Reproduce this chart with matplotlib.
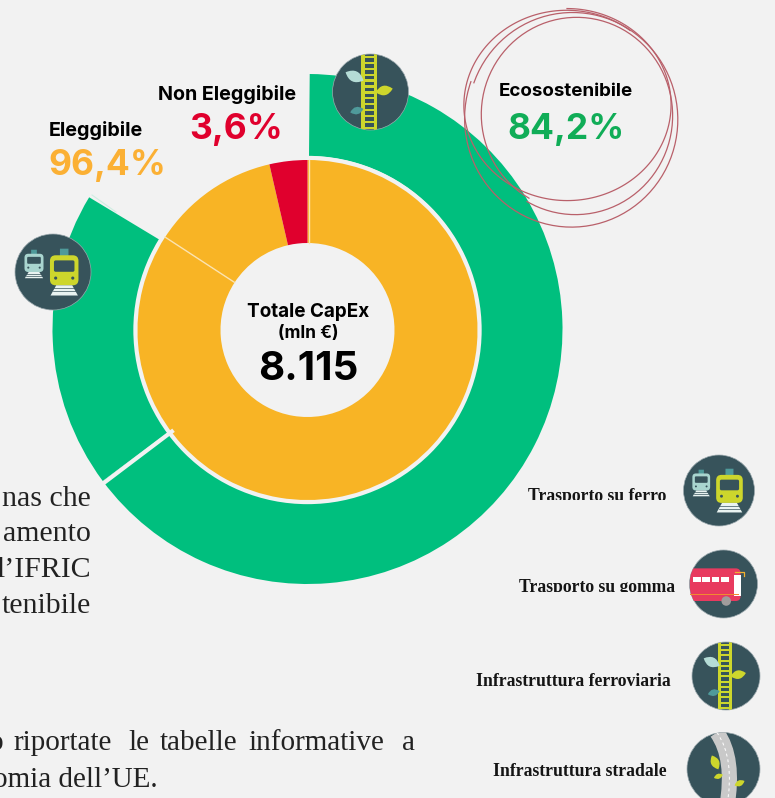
import matplotlib
matplotlib.use("Agg")
import matplotlib.pyplot as plt
import numpy as np
from matplotlib.patches import Circle, FancyBboxPatch, PathPatch, Polygon, Rectangle
from matplotlib.path import Path

# Data
outer_labels = ["Infrastruttura ferroviaria", "Trasporto su ferro", "rest"]
outer_values = [64.7, 18.8, 16.5]
inner_labels = ["Ecosostenibile", "Eleggibile non ecosostenibile", "Non Eleggibile"]
inner_values = [84.2, 12.2, 3.6]
legend_labels = ["Trasporto su ferro", "Trasporto su gomma", "Infrastruttura ferroviaria", "Infrastruttura stradale"]

BG = "#f2f2f2"
GREEN = "#00bf7e"
YELLOW = "#f8b425"
RED = "#e0002d"
SLATE = "#37535b"
LIME = "#cdd62c"
PALE = "#a9d5cf"
TEAL = "#4f9a9a"
SANS = "Inter"
SERIF = "Liberation Serif"

fig = plt.figure(figsize=(7.75, 7.98), dpi=100, facecolor=BG)
ax = fig.add_axes([0, 0, 1, 1])

# Outer ring
cx, cy = 307.5, 329
ax.pie(outer_values, radius=255, center=(cx, cy), startangle=270.5, counterclock=True, frame=True,
       colors=[GREEN, GREEN, "none"],
       wedgeprops=dict(width=82, edgecolor="none"))
# Inner ring
ax.pie(inner_values, radius=170, center=(cx, cy + 1), startangle=270, counterclock=True, frame=True,
       colors=[YELLOW, YELLOW, RED],
       wedgeprops=dict(width=83, edgecolor="none"))
ax.set_xlim(0, 775)
ax.set_ylim(798, 0)
ax.set_aspect("equal")
ax.axis("off")

# White gaps between the slices
gap = np.deg2rad(-90 + 360 * outer_values[0] / 100)
ax.plot([cx + 170 * np.cos(gap), cx + 258 * np.cos(gap)],
        [cy + 170 * np.sin(gap), cy + 258 * np.sin(gap)], color=BG, lw=3, zorder=3)
ax.add_patch(Circle((cx, cy + 1), 172.5, fc="none", ec=BG, lw=2.4, zorder=3))
split = np.deg2rad(-90 + 360 * inner_values[0] / 100)
ax.plot([cx + 87 * np.cos(split), cx + 170 * np.cos(split)],
        [cy + 1 + 87 * np.sin(split), cy + 1 + 170 * np.sin(split)], color="#fbe3b0", lw=1, zorder=3)
ax.plot([cx + 1, cx + 1], [cy - 169, cy - 86], color="#fbe3b0", lw=1, zorder=3)
ax.plot([92, 116], [195, 212], color="#cfeee2", lw=0.8)


def leaf(x, y, length, angle, color):
    a = np.deg2rad(angle)
    d = np.array([np.cos(a), np.sin(a)]) * length / 2
    n = np.array([-d[1], d[0]]) * 1.1
    c = np.array([x, y])
    verts = [c - d, c + n, c + d, c - n, c - d]
    codes = [Path.MOVETO, Path.CURVE3, Path.CURVE3, Path.CURVE3, Path.CURVE3]
    ax.add_patch(PathPatch(Path(verts, codes), fc=color, ec="none", zorder=8))


def disc(x, y, r):
    c = Circle((x, y), r, fc=SLATE, ec="#9aa8ad", lw=0.5, zorder=5)
    ax.add_patch(c)
    return c


def box(x0, y0, x1, y1, color, pad=0.0, clip=None):
    p = FancyBboxPatch((x0 + pad, y0 + pad), x1 - x0 - 2 * pad, y1 - y0 - 2 * pad,
                       boxstyle=f"round,pad={pad},rounding_size={pad}", fc=color, ec="none", zorder=6)
    ax.add_patch(p)
    if clip is not None:
        p.set_clip_path(clip)
    return p


def one_train(x, y, r, x0, y0, x1, y1, color):
    # x0..y1 are fractions of the icon radius
    X0, X1 = x + x0 * r, x + x1 * r
    Y0, Y1 = y + y0 * r, y + y1 * r
    w = X1 - X0
    h = Y1 - Y0
    mx = (X0 + X1) / 2
    box(mx - w * 0.15, Y0 - h * 0.22, mx + w * 0.15, Y0 + 1, TEAL)
    box(X0, Y0, X1, Y1, color, pad=w * 0.2)
    box(X0 + w * 0.14, Y0 + h * 0.17, X1 - w * 0.14, Y0 + h * 0.55, SLATE, pad=w * 0.06)
    for f in (0.2, 0.8):
        ax.add_patch(Circle((X0 + w * f, Y0 + h * 0.76), w * 0.055, fc=SLATE, ec="none", zorder=7))
    ax.add_patch(Polygon([(mx - w * 0.28, Y1), (mx + w * 0.28, Y1), (mx + w * 0.48, Y1 + h * 0.34), (mx - w * 0.48, Y1 + h * 0.34)],
                         fc="#e9f3f1", ec="none", zorder=6))
    for f in (0.1, 0.2):
        ax.plot([mx - w * 0.4, mx + w * 0.4], [Y1 + h * f, Y1 + h * f], color=SLATE, lw=0.5, zorder=7)


def train_icon(x, y, r):
    disc(x, y, r)
    one_train(x, y, r, -0.08, -0.44, 0.67, 0.35, LIME)
    one_train(x, y, r, -0.75, -0.48, -0.25, 0.0, PALE)


def ladder_icon(x, y, r):
    c = disc(x, y, r)
    for dx in (-0.24, 0.09):
        p = Rectangle((x + dx * r, y - r), 0.09 * r, 2 * r, fc=LIME, ec="none", zorder=6)
        ax.add_patch(p)
        p.set_clip_path(c)
    for f in np.arange(-0.95, 1.0, 0.155):
        p = Rectangle((x - 0.2 * r, y + f * r), 0.34 * r, 0.06 * r, fc=LIME, ec="none", zorder=6)
        ax.add_patch(p)
        p.set_clip_path(c)
    leaf(x - 0.42 * r, y - 0.41 * r, 0.52 * r, 25, "#b5dcd6")
    leaf(x + 0.36 * r, y - 0.04 * r, 0.46 * r, -12, LIME)
    leaf(x - 0.36 * r, y + 0.49 * r, 0.36 * r, -15, TEAL)


def bus_icon(x, y, r):
    c = disc(x, y, r)
    box(x - 0.99 * r, y - 0.46 * r, x + 0.5 * r, y + 0.5 * r, "#e83a5f", pad=0.14 * r, clip=c)
    for f in (-0.89, -0.62, -0.35, -0.08):
        ax.add_patch(Rectangle((x + f * r, y - 0.22 * r), 0.23 * r, 0.15 * r, fc="white", ec="none", zorder=7))
    ax.add_patch(Rectangle((x + 0.32 * r, y - 0.26 * r), 0.18 * r, 0.62 * r, fc="white", ec="none", zorder=7))
    ax.add_patch(Rectangle((x - 0.99 * r, y + 0.28 * r), 1.45 * r, 0.04 * r, fc="#f08a30", ec="none", zorder=7))
    ax.add_patch(Circle((x + 0.08 * r, y + 0.5 * r), 0.14 * r, fc="#a09c9c", ec="none", zorder=8))
    ax.plot([x + 0.35 * r, x + 0.6 * r, x + 0.6 * r], [y - 0.34 * r, y - 0.34 * r, y - 0.25 * r], color="#f0b030", lw=0.9, zorder=7)


def road_icon(x, y, r):
    c = disc(x, y, r)
    verts = [(x - 0.18 * r, y - 1.0 * r), (x + 0.32 * r, y - 0.3 * r), (x + 0.09 * r, y + 1.05 * r)]
    codes = [Path.MOVETO, Path.CURVE3, Path.CURVE3]
    p = PathPatch(Path(verts, codes), fc="none", ec="#c9c9c9", lw=r * 0.3, zorder=6, capstyle="butt")
    ax.add_patch(p)
    p.set_clip_path(c)
    p = PathPatch(Path(verts, codes), fc="none", ec="white", lw=0.7, ls=(0, (3, 3)), zorder=7)
    ax.add_patch(p)
    p.set_clip_path(c)
    leaf(x - 0.23 * r, y - 0.18 * r, 0.42 * r, 65, LIME)
    leaf(x - 0.14 * r, y + 0.2 * r, 0.26 * r, -20, LIME)
    leaf(x + 0.44 * r, y + 0.39 * r, 0.3 * r, -25, LIME)


train_icon(53, 272, 38)
ladder_icon(370.5, 92, 38)
train_icon(719, 490.5, 35.5)
bus_icon(723.5, 584, 34)
ladder_icon(726, 676, 34)
road_icon(723.5, 769, 36.5)

# Hand drawn rings around the 84,2%
scribbles = [
    (567, 105, 103.5, 95.5, -52, -450, 0.01),
    (576, 115, 96, 98, 120, 480, 0.02),
    (572, 119, 106, 107.5, 200, 560, 0.015),
]
for sx, sy, rx, ry, t0, t1, drift in scribbles:
    t = np.deg2rad(np.linspace(t0, t1, 200))
    k = 1 + drift * np.linspace(-1, 1, 200)
    ax.plot(sx + rx * k * np.cos(t), sy + ry * k * np.sin(t), color="#b9606a", lw=0.9, zorder=4)

# Center labels
ax.text(308, 312, "Totale CapEx", family=SANS, weight="bold", fontsize=13.6, ha="center", va="center", color="black")
ax.text(308, 334, "(mln €)", family=SANS, weight="bold", fontsize=12.5, ha="center", va="center", color="black")
ax.text(308, 370, "8.115", family=SANS, weight="bold", fontsize=29, ha="center", va="center", color="black")

# Callouts
ax.text(227, 94, "Non Eleggibile", family=SANS, weight="bold", fontsize=14.2, ha="center", va="center", color="black")
ax.text(236, 129, "3,6%", family=SANS, weight="bold", fontsize=25.5, ha="center", va="center", color=RED)
ax.text(95.5, 130, "Eleggibile", family=SANS, weight="bold", fontsize=14.2, ha="center", va="center", color="black")
ax.text(107, 165, "96,4%", family=SANS, weight="bold", fontsize=25.5, ha="center", va="center", color="#fbb034")
ax.text(566, 91, "Ecosostenibile", family=SANS, weight="bold", fontsize=13.5, ha="center", va="center", color="black")
ax.text(566, 129, "84,2%", family=SANS, weight="bold", fontsize=25.5, ha="center", va="center", color="#10ad57")

# Legend labels, the first two lose their descenders in the reference
legend_pos = [(666, 496.5, 500), (675, 587.5, 592), (671, 681, 700), (667, 772, 790)]
for lab, (x, y, cut) in zip(legend_labels, legend_pos):
    t = ax.text(x, y, lab, family=SERIF, weight="bold", fontsize=12.7, ha="right", va="center", color="#151515")
    t.set_clip_on(True)
    t.set_clip_path(Rectangle((0, 0), 775, cut, transform=ax.transData))

# Cropped page text behind the chart
for y, s in [(499, "nas che"), (534, "amento"), (570, "l’IFRIC"), (606, "tenibile")]:
    ax.text(91, y, s, family=SERIF, fontsize=21.5, ha="right", va="center", color="#222222")
for x, s in [(3, "o"), (13, "riportate"), (128, "le"), (160, "tabelle"), (248, "informative"), (402, "a")]:
    ha = "right" if s == "o" else "left"
    ax.text(x, 743, s, family=SERIF, fontsize=21, ha=ha, va="center", color="#222222")
ax.text(158, 780, "omia dell’UE.", family=SERIF, fontsize=21, ha="right", va="center", color="#222222")

fig.savefig("out.png", dpi=100, facecolor=BG)
